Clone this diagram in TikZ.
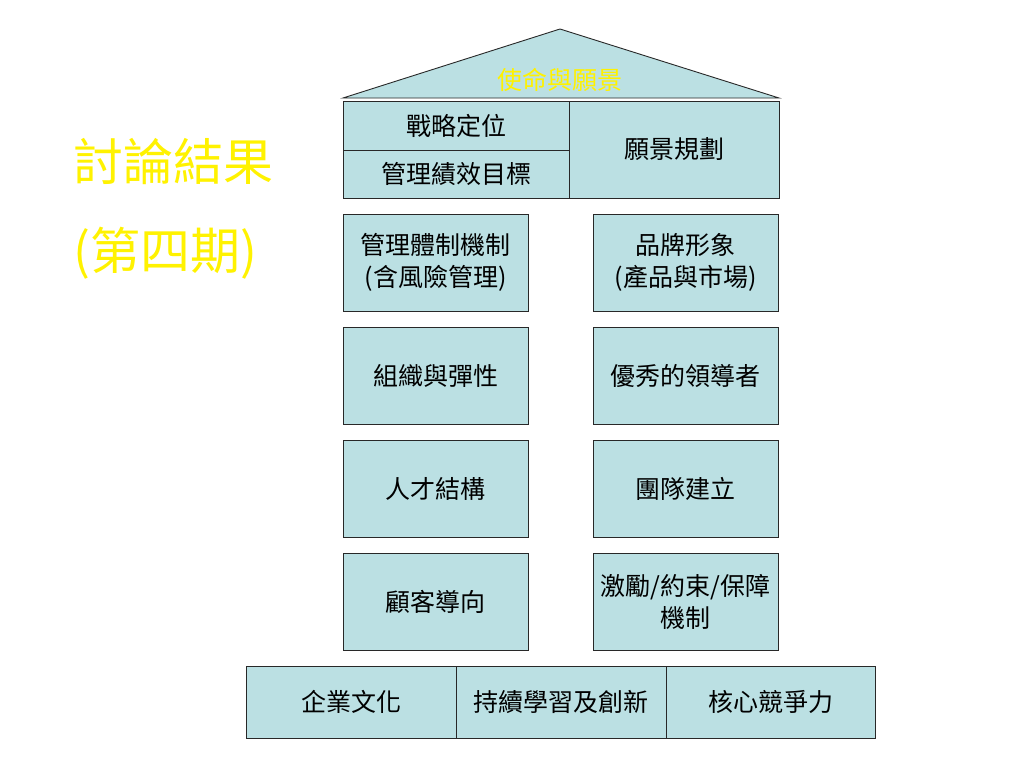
\documentclass[tikz,border=0pt]{standalone}
\usepackage{fontspec}
\setmainfont{Noto Sans CJK TC}
\usetikzlibrary{positioning}

\definecolor{pale}{RGB}{187,224,227}
\definecolor{rim}{RGB}{40,40,40}

\begin{document}
\begin{tikzpicture}[x=1pt, y=-1pt,
    box/.style={draw=rim, fill=pale, line width=0.9pt, inner sep=0pt, align=center,
      font=\fontsize{25}{32}\selectfont},
    pillar/.style={box, minimum width=185pt, minimum height=97pt},
    base/.style={box, minimum width=210pt, minimum height=72pt},
    title/.style={text=yellow, font=\fontsize{50}{58}\selectfont}]
    \useasboundingbox[fill=white] (0,0) rectangle (1024,768);

    % roof
    \draw[draw=rim, fill=pale, line width=0.9pt] (560,29) -- (779,98) -- (343,98) -- cycle;
    \node[text=yellow, font=\fontsize{25}{30}\selectfont] (mission) at (560,80) {使命與願景};

    % top beam
    \node[box, minimum width=226pt, minimum height=49pt] (strategy) at (456,125.5) {戰略定位};
    \node[box, minimum width=226pt, minimum height=48pt] (goals) at (456,174) {管理績效目標};
    \node[box, minimum width=210pt, minimum height=97pt] (vision) at (674,149.5) {願景規劃};

    % pillars
    \def\xl{435.5}
    \def\xr{685.5}
    \node[pillar] (system) at (\xl,262.5) {管理體制機制\\(含風險管理)};
    \node[pillar] (brand) at (\xr,262.5) {品牌形象\\(產品與市場)};
    \node[pillar] (organize) at (\xl,375.5) {組織與彈性};
    \node[pillar] (leader) at (\xr,375.5) {優秀的領導者};
    \node[pillar] (talent) at (\xl,488.5) {人才結構};
    \node[pillar] (team) at (\xr,488.5) {團隊建立};
    \node[pillar] (customer) at (\xl,601.5) {顧客導向};
    \node[pillar] (incentive) at (\xr,601.5) {激勵/約束/保障\\機制};

    % foundation
    \node[base] (culture) at (351,702) {企業文化};
    \node[base] (learning) at (561,702) {持續學習及創新};
    \node[base, minimum width=209pt] (core) at (770.5,702) {核心競爭力};

    % title
    \node[title] (heading) at (173,161) {討論結果};
    \node[title] (period) at (165,253) {(第四期)};
\end{tikzpicture}
\end{document}
